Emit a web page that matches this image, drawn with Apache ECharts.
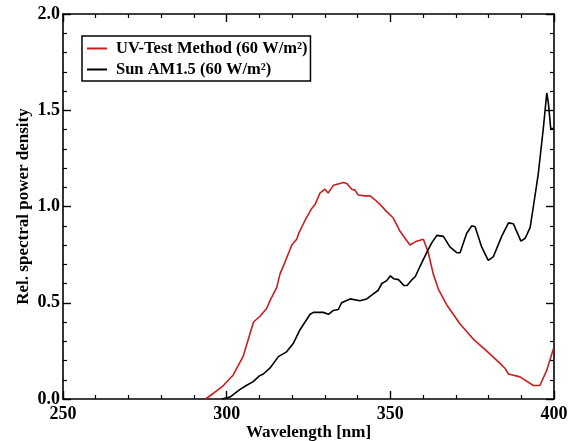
<!DOCTYPE html>
<html>
<head>
<meta charset="utf-8">
<script src="https://cdn.jsdelivr.net/npm/echarts@6/dist/echarts.min.js"></script>
<style>html,body{margin:0;padding:0;background:#fff;}#c{width:581px;height:441px;}</style>
</head>
<body>
<div id="c"></div>
<script>
const seriesNames = ['UV-Test Method (60 W/m²)', 'Sun AM1.5 (60 W/m²)'];
const xTicks = [250, 300, 350, 400];
const yTicks = [0.0, 0.5, 1.0, 1.5, 2.0];

const uvWavelength = [293.5,296,299,302,305,308.2,310.2,312.2,313.2,315.3,316.3,317.3,319.9,321.4,322,324,326,327,328.5,330,331,332.6,334.6,335.6,336.7,338.2,339.2,340.2,342.3,343.8,345.3,346.9,348.5,350.9,353,356,358,360.1,361.6,363.1,364.7,367.2,371.3,375.4,379.4,383.5,385,386.1,389.6,393.7,395.7,397.8,399.8];
const uvValues = [0,0.03,0.07,0.125,0.22,0.40,0.43,0.47,0.51,0.58,0.65,0.69,0.80,0.83,0.86,0.93,0.99,1.01,1.07,1.09,1.07,1.11,1.12,1.125,1.12,1.09,1.085,1.06,1.055,1.055,1.035,1.01,0.98,0.94,0.87,0.80,0.82,0.83,0.76,0.65,0.57,0.49,0.39,0.31,0.25,0.185,0.16,0.13,0.115,0.07,0.07,0.15,0.26];

const sunWavelength = [298.5,301,304.1,306,308.1,310,311.2,313.2,315.8,318.3,320.4,322.4,325.5,326.5,329.5,331.1,332.6,334.1,335.1,337.7,340.7,342.8,344.3,346.3,347.4,348.9,350,351,352.5,354.1,355.1,356.6,357.6,359.1,361.1,362.6,364.2,366.2,368.2,370.3,371.3,373.3,374.9,375.9,377.9,379.9,381.5,384,386.1,387.6,389.9,391.2,392.7,393.7,395.2,396.7,397.8,398.3,399,399.8];
const sunValues = [0,0.01,0.05,0.07,0.09,0.12,0.13,0.16,0.22,0.245,0.29,0.36,0.44,0.45,0.45,0.44,0.46,0.465,0.50,0.52,0.51,0.52,0.54,0.565,0.60,0.615,0.64,0.625,0.62,0.59,0.59,0.62,0.635,0.69,0.76,0.81,0.85,0.845,0.79,0.76,0.76,0.86,0.90,0.895,0.79,0.72,0.74,0.845,0.915,0.91,0.82,0.835,0.89,1.0,1.17,1.40,1.59,1.535,1.405,1.405];

const uvData = uvWavelength.map((x, i) => [x, uvValues[i]]);
const sunData = sunWavelength.map((x, i) => [x, sunValues[i]]);

const FONT = 'Liberation Serif';
const axisLineStyle = { color: '#000', width: 1.6 };

function xAxisCfg(pos, showLabel) {
  return {
    type: 'value', position: pos, min: xTicks[0], max: xTicks[xTicks.length - 1], interval: 50,
    axisLine: { show: true, onZero: false, lineStyle: axisLineStyle },
    axisTick: { show: true, inside: true, length: 8, lineStyle: { color: '#000', width: 1.4 } },
    minorTick: { show: true, splitNumber: 5, length: 4, lineStyle: { color: '#000', width: 1.2 } },
    splitLine: { show: false },
    axisLabel: { show: showLabel, color: '#000', fontFamily: FONT, fontWeight: 'bold', fontSize: 18, margin: 6 },
    name: showLabel ? 'Wavelength [nm]' : '',
    nameLocation: 'middle', nameGap: 25, nameMoveOverlap: false,
    nameTextStyle: { color: '#000', fontFamily: FONT, fontWeight: 'bold', fontSize: 17 }
  };
}
function yAxisCfg(pos, showLabel) {
  return {
    type: 'value', position: pos, min: yTicks[0], max: yTicks[yTicks.length - 1], interval: 0.5,
    axisLine: { show: true, onZero: false, lineStyle: axisLineStyle },
    axisTick: { show: true, inside: true, length: 8, lineStyle: { color: '#000', width: 1.4 } },
    minorTick: { show: true, splitNumber: 5, length: 4, lineStyle: { color: '#000', width: 1.2 } },
    splitLine: { show: false },
    axisLabel: { show: showLabel, color: '#000', fontFamily: FONT, fontWeight: 'bold', fontSize: 18, margin: 3,
      formatter: v => v.toFixed(1) },
    name: showLabel ? 'Rel. spectral power density' : '',
    nameLocation: 'middle', nameGap: 31, nameMoveOverlap: false,
    nameTextStyle: { color: '#000', fontFamily: FONT, fontWeight: 'bold', fontSize: 17 }
  };
}

const chart = echarts.init(document.getElementById('c'));
chart.setOption({
  animation: false,
  backgroundColor: '#fff',
  grid: { left: 63, right: 27, top: 14, bottom: 42, containLabel: false, outerBoundsMode: 'none' },
  legend: {
    orient: 'vertical', left: 82, top: 36,
    padding: [3, 3, 2, 5], itemGap: 2, itemWidth: 20, itemHeight: 2,
    icon: 'rect',
    borderColor: '#000', borderWidth: 1.5, backgroundColor: '#fff',
    textStyle: { color: '#000', fontFamily: FONT, fontWeight: 'bold', fontSize: 16.5, padding: [0, 0, 0, 4], lineHeight: 19 },
    data: seriesNames
  },
  xAxis: [xAxisCfg('bottom', true), xAxisCfg('top', false)],
  yAxis: [yAxisCfg('left', true), yAxisCfg('right', false)],
  series: [
    { name: seriesNames[0], type: 'line', data: uvData, symbol: 'none', color: '#cc1d1d',
      lineStyle: { color: '#cc1d1d', width: 1.6 }, xAxisIndex: 0, yAxisIndex: 0 },
    { name: seriesNames[1], type: 'line', data: sunData, symbol: 'none', color: '#000',
      lineStyle: { color: '#000', width: 1.6 }, xAxisIndex: 0, yAxisIndex: 0 }
  ]
});
</script>
</body>
</html>
